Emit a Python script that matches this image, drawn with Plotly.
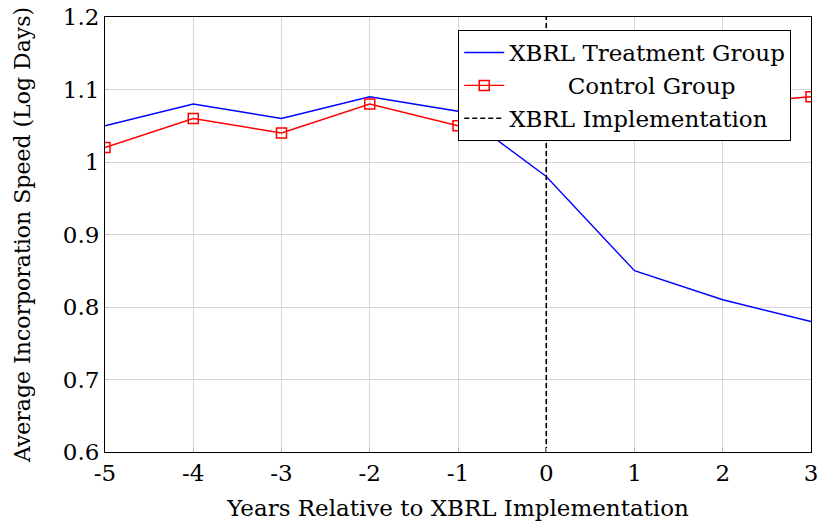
import plotly.graph_objects as go

years = [-5, -4, -3, -2, -1, 0, 1, 2, 3]
treatment = [1.05, 1.08, 1.06, 1.09, 1.07, 0.98, 0.85, 0.81, 0.78]
control = [1.02, 1.06, 1.04, 1.08, 1.05, 1.07, 1.08, 1.08, 1.09]
impl_x = [0, 0]
impl_y = [0.6, 1.2]
y_ticks = [0.6, 0.7, 0.8, 0.9, 1.0, 1.1, 1.2]
y_tick_labels = ["0.6", "0.7", "0.8", "0.9", "1", "1.1", "1.2"]

FONT = "DejaVu Serif, serif"
FS = 23
NB = "\u00a0"

fig = go.Figure()
fig.add_trace(go.Scatter(x=years, y=treatment, mode="lines", name="XBRL Treatment Group",
                         line=dict(color="blue", width=1.4)))
fig.add_trace(go.Scatter(x=years, y=control, mode="lines+markers",
                         name=NB * 8 + "Control Group",
                         line=dict(color="red", width=1.4),
                         marker=dict(symbol="square-open", size=10, color="red",
                                     line=dict(width=1.5, color="red"))))
fig.add_trace(go.Scatter(x=impl_x, y=impl_y, mode="lines", name="XBRL Implementation",
                         line=dict(color="black", width=1.6, dash="5px,3px")))

fig.update_layout(
    width=825, height=522,
    margin=dict(l=105, r=14, t=17, b=70, autoexpand=False),
    paper_bgcolor="white", plot_bgcolor="white",
    font=dict(family=FONT, size=FS, color="black"),
    showlegend=True,
    legend=dict(x=0.972, y=0.97, xanchor="right", yanchor="top",
                bordercolor="black", borderwidth=1, bgcolor="white",
                font=dict(family=FONT, size=FS), tracegroupgap=0,
                itemwidth=40),
    xaxis=dict(range=[-5, 3], tickvals=years, ticktext=[str(v) for v in years],
               showgrid=True, gridcolor="#d6d6d6", gridwidth=1,
               showline=True, linecolor="black", linewidth=1, mirror=True,
               ticks="inside", ticklen=4, tickcolor="#bbbbbb", zeroline=False,
               automargin=False,
               title=dict(text="Years Relative to XBRL Implementation", standoff=15,
                          font=dict(family=FONT, size=FS))),
    yaxis=dict(range=[0.6, 1.2], tickvals=y_ticks, ticktext=y_tick_labels,
               showgrid=True, gridcolor="#d6d6d6", gridwidth=1,
               showline=True, linecolor="black", linewidth=1, mirror=True,
               ticks="inside", ticklen=4, tickcolor="#bbbbbb", zeroline=False,
               automargin=False,
               title=dict(text="Average Incorporation Speed (Log Days)", standoff=26,
                          font=dict(family=FONT, size=22))),
)

fig.write_html("out.html", config={"displayModeBar": False},
               post_script="document.body.style.margin='0';")
